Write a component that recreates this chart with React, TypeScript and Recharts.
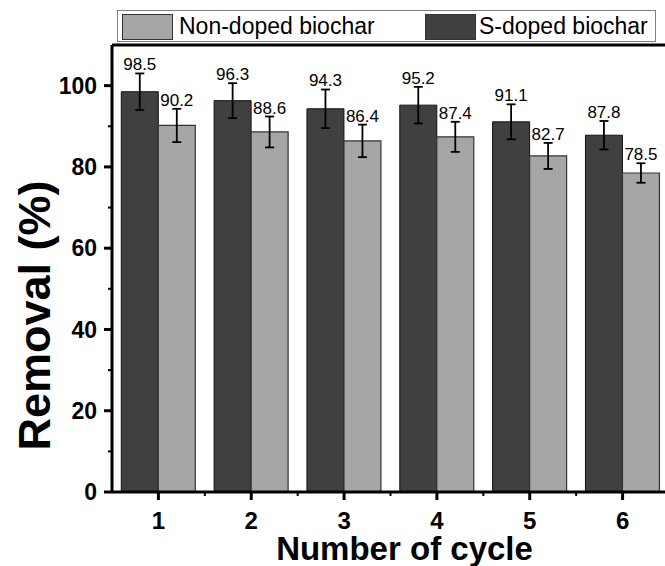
import React from 'react';
import { BarChart, Bar, XAxis, YAxis, ErrorBar, LabelList, Legend, ReferenceLine } from 'recharts';

const cycles = [1, 2, 3, 4, 5, 6];
const sDoped = [98.5, 96.3, 94.3, 95.2, 91.1, 87.8];
const sDopedErr = [4.5, 4.3, 4.75, 4.5, 4.3, 3.5];
const nonDoped = [90.2, 88.6, 86.4, 87.4, 82.7, 78.5];
const nonDopedErr = [4.1, 3.8, 4.0, 3.7, 3.2, 2.4];
const xTicks = [1, 1.5, 2, 2.5, 3, 3.5, 4, 4.5, 5, 5.5, 6];
const yTicks = [0, 10, 20, 30, 40, 50, 60, 70, 80, 90, 100];
const sName = 'S-doped biochar';
const nName = 'Non-doped biochar';
const legendOrder = [nName, sName];
const xTitle = 'Number of cycle';
const yTitle = 'Removal (%)';

const data = cycles.map((c, i) => ({
  cycle: c,
  s: sDoped[i],
  sErr: sDopedErr[i],
  n: nonDoped[i],
  nErr: nonDopedErr[i],
}));

const FONT = '"Liberation Sans", Arial, Helvetica, sans-serif';
const DARK = '#404040';
const LIGHT = '#a6a6a6';

const makeValueLabel = (errs: number[]) => (props: any) => {
  const { x, y, width, height, value, index } = props;
  const v = Number(value);
  const h = Math.abs(Number(height));
  const top = Math.min(Number(y), Number(y) + Number(height));
  const errPx = v ? (errs[index] * h) / v : 0;
  return (
    <text
      x={Number(x) + Number(width) / 2}
      y={top - errPx - 3}
      textAnchor="middle"
      fontSize={17}
      fill="#000"
      fontFamily={FONT}
    >
      {v.toFixed(1)}
    </text>
  );
};

const YTick = (props: any) => {
  const { x, y, payload } = props;
  const axisX = x + 15;
  const major = payload.value % 20 === 0;
  return (
    <g>
      <line x1={axisX} x2={axisX - (major ? 8 : 4)} y1={y} y2={y} stroke="#000" strokeWidth={major ? 3 : 2} />
      {major && (
        <text x={x} y={y} dy="0.36em" textAnchor="end" fontSize={23} fontWeight="bold" fontFamily={FONT} fill="#000">
          {payload.value}
        </text>
      )}
    </g>
  );
};

const XTick = (props: any) => {
  const { x, y, payload } = props;
  const axisY = y - 10;
  const major = Number.isInteger(payload.value);
  return (
    <g>
      <line x1={x} x2={x} y1={axisY} y2={axisY + (major ? 8 : 4)} stroke="#000" strokeWidth={major ? 3 : 2} />
      {major && (
        <text x={x} y={axisY + 37} textAnchor="middle" fontSize={24} fontWeight="bold" fontFamily={FONT} fill="#000">
          {payload.value}
        </text>
      )}
    </g>
  );
};

const XTitle = (props: any) => {
  const vb = props.viewBox || {};
  return (
    <text
      x={vb.x + vb.width / 2 + 14}
      y={vb.y + 68}
      textAnchor="middle"
      fontSize={33}
      fontWeight="bold"
      fontFamily={FONT}
      fill="#000"
    >
      {xTitle}
    </text>
  );
};

const YTitle = (props: any) => {
  const vb = props.viewBox || {};
  const cx = vb.x + 50;
  const cy = vb.y + vb.height / 2 + 47;
  return (
    <text
      x={cx}
      y={cy}
      transform={`rotate(-90, ${cx}, ${cy})`}
      textAnchor="middle"
      fontSize={45}
      fontWeight="bold"
      fontFamily={FONT}
      fill="#000"
    >
      {yTitle}
    </text>
  );
};

const itemLefts = [4, 307];
const textLefts = [61, 361];

const LegendBox = (props: any) => {
  const payload = [...(props.payload || [])].sort(
    (a: any, b: any) => legendOrder.indexOf(a.value) - legendOrder.indexOf(b.value)
  );
  return (
    <div
      style={{
        position: 'relative',
        boxSizing: 'border-box',
        width: 539,
        height: 32,
        border: '1px solid #808080',
        background: '#fff',
        fontFamily: FONT,
      }}
    >
      {payload.map((p: any, i: number) => (
        <React.Fragment key={p.value}>
          <div
            style={{
              position: 'absolute',
              left: itemLefts[i],
              top: 3,
              width: 51,
              height: 26,
              boxSizing: 'border-box',
              background: p.color,
              border: '1px solid #333',
            }}
          />
          <div
            style={{
              position: 'absolute',
              left: textLefts[i],
              top: 2,
              fontSize: 23,
              lineHeight: '26px',
              color: '#000',
              whiteSpace: 'nowrap',
            }}
          >
            {p.value}
          </div>
        </React.Fragment>
      ))}
    </div>
  );
};

export default function App() {
  return (
    <div style={{ position: 'absolute', left: 0, top: 0, width: 665, height: 566, overflow: 'hidden', background: '#fff' }}>
      <BarChart
        width={680}
        height={566}
        data={data}
        margin={{ top: 45, right: 11, left: 0, bottom: 0 }}
        barCategoryGap="10%"
        barGap={0}
      >
        <XAxis
          dataKey="cycle"
          type="number"
          domain={[0.5, 6.5]}
          ticks={xTicks}
          interval={0}
          height={74}
          tickSize={8}
          tickMargin={2}
          tickLine={false}
          tick={<XTick />}
          axisLine={{ stroke: '#000', strokeWidth: 3 }}
          label={<XTitle />}
          allowDataOverflow
        />
        <YAxis
          type="number"
          domain={[0, 110]}
          ticks={yTicks}
          interval={0}
          width={112}
          tickSize={8}
          tickMargin={7}
          tickLine={false}
          tick={<YTick />}
          axisLine={{ stroke: '#000', strokeWidth: 3 }}
          label={<YTitle />}
          allowDataOverflow
        />
        <ReferenceLine y={110} stroke="#000" strokeWidth={3} />
        <Legend
          layout="horizontal"
          verticalAlign="middle"
          align="center"
          wrapperStyle={{ top: 10, left: 117, width: 539, height: 32 }}
          content={<LegendBox />}
        />
        <Bar dataKey="s" name={sName} fill={DARK} stroke="#111" strokeWidth={1} isAnimationActive={false}>
          <ErrorBar dataKey="sErr" width={4.5} stroke="#000" strokeWidth={1.8} direction="y" />
          <LabelList dataKey="s" content={makeValueLabel(sDopedErr)} />
        </Bar>
        <Bar dataKey="n" name={nName} fill={LIGHT} stroke="#333" strokeWidth={1.2} isAnimationActive={false}>
          <ErrorBar dataKey="nErr" width={4.5} stroke="#000" strokeWidth={1.8} direction="y" />
          <LabelList dataKey="n" content={makeValueLabel(nonDopedErr)} />
        </Bar>
      </BarChart>
    </div>
  );
}
